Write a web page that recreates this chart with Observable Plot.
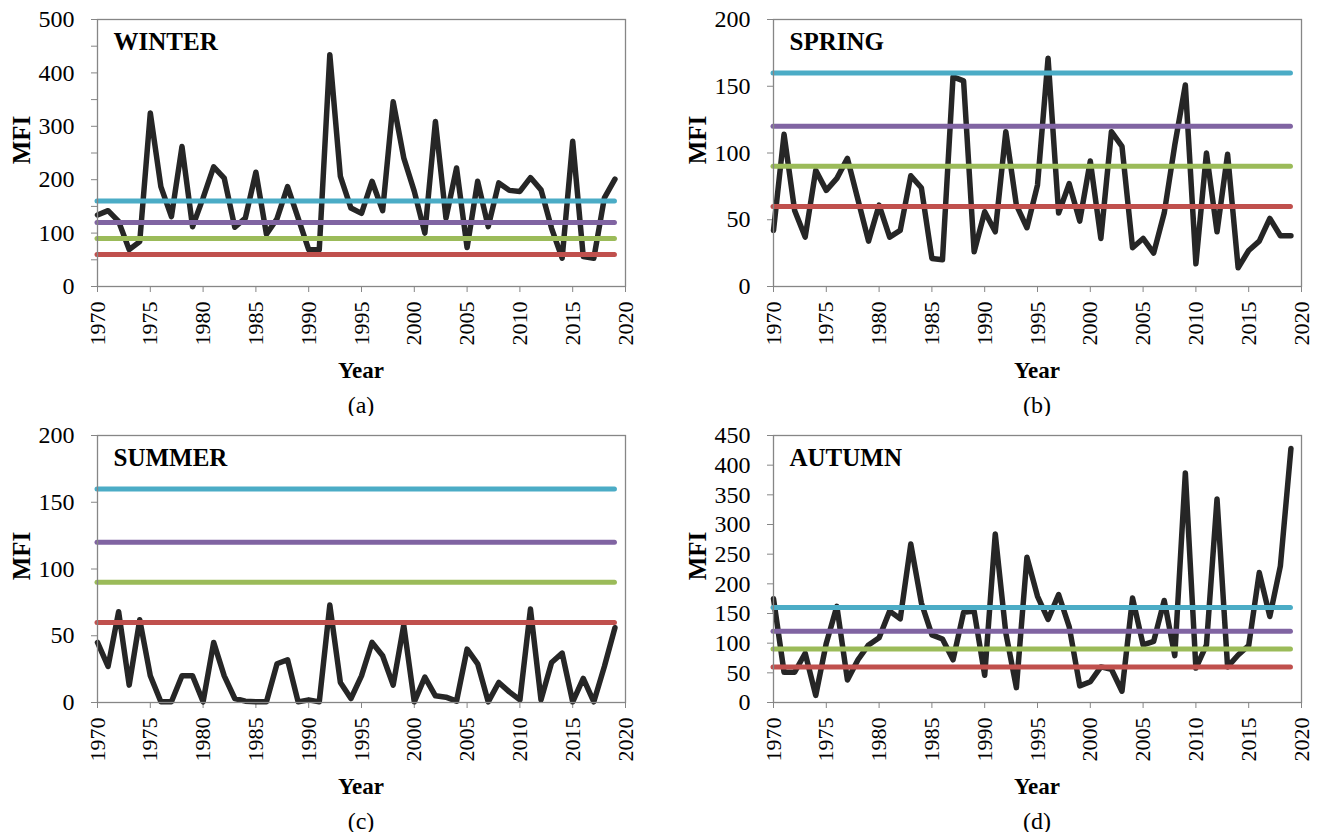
<!DOCTYPE html>
<html>
<head>
<meta charset="utf-8">
<script src="https://cdn.jsdelivr.net/npm/d3@7"></script>
<script src="https://cdn.jsdelivr.net/npm/@observablehq/plot@0.6"></script>
<style>
  html, body { margin: 0; padding: 0; background: #fff; }
  body { width: 1322px; height: 832px; overflow: hidden; position: relative;
         font-family: "Liberation Serif", "Times New Roman", serif; color: #000; }
  .panel { position: absolute; }
  .panel svg, .panel svg text { font-family: "Liberation Serif", "Times New Roman", serif !important; }
  .lbl { position: absolute; transform: translate(-50%, -50%); white-space: nowrap; line-height: 1; }
  .rot { transform: translate(-50%, -50%) rotate(-90deg); }
</style>
</head>
<body>
<script>
// ---- data ----
const years = [1970,1971,1972,1973,1974,1975,1976,1977,1978,1979,
               1980,1981,1982,1983,1984,1985,1986,1987,1988,1989,
               1990,1991,1992,1993,1994,1995,1996,1997,1998,1999,
               2000,2001,2002,2003,2004,2005,2006,2007,2008,2009,
               2010,2011,2012,2013,2014,2015,2016,2017,2018,2019];

const winter = [134,142,122,69,84,325,187,131,262,112,
                166,224,203,111,128,214,98,127,187,128,
                69,69,434,206,147,137,197,142,346,241,
                178,100,309,128,222,73,197,112,194,180,
                178,204,181,109,53,272,56,53,166,201];

const spring = [42,114,57,37,87,72,81,96,65,34,
                61,37,42,83,74,21,20,157,154,26,
                56,41,116,61,44,76,171,55,77,49,
                94,36,116,105,29,36,25,55,106,151,
                17,100,41,99,14,27,34,51,38,38];

const summer = [45,27,68,13,62,20,0.5,0.5,20,20,
                0.5,45,20,3,1,0.5,0.5,29,32,0.5,
                2,0.5,73,15,3,20,45,35,13,58,
                0.5,19,5,4,1,40,29,0.5,15,8,
                2,70,2,30,37,0.5,18,0.5,27,56];

const autumn = [175,51,51,83,12,100,162,38,72,97,
                109,154,141,267,168,114,107,72,152,154,
                46,284,117,25,245,179,140,182,128,28,
                35,60,56,19,176,97,103,172,79,387,
                58,97,343,60,80,96,219,145,230,428];

const seasonNames = ["WINTER", "SPRING", "SUMMER", "AUTUMN"];
const panelLetters = ["(a)", "(b)", "(c)", "(d)"];
const thresholds = [60, 90, 120, 160];
const thresholdColors = ["#C0504D", "#9BBB59", "#8064A2", "#4BACC6"];
const xTickYears = [1970,1975,1980,1985,1990,1995,2000,2005,2010,2015,2020];
const yMaxes = [500, 200, 200, 450];
const yLabelEvery = [100, 50, 50, 50];

// ---- layout ----
const seriesList = [winter, spring, summer, autumn];
const layout = [
  {left: 0,   top: 0},
  {left: 676, top: 0},
  {left: 0,   top: 416},
  {left: 676, top: 416}
];
const W = 645, H = 390, ML = 97, MR = 20, MT = 19, MB = 104;
const axisGray = "#868686";
const serif = "Liberation Serif";

seriesList.forEach((vals, i) => {
  const data = years.map((y, k) => ({year: y, value: vals[k]}));
  const yMax = yMaxes[i];
  const yTicks = d3.range(0, yMax + 1, 50);
  const every = yLabelEvery[i];
  const chart = Plot.plot({
    width: W, height: H,
    marginLeft: ML, marginRight: MR, marginTop: MT, marginBottom: MB,
    x: {domain: [1970, 2020]},
    y: {domain: [0, yMax]},
    style: {fontFamily: serif, color: "#000", background: "#fff", overflow: "visible"},
    marks: [
      Plot.axisX({ticks: xTickYears, tickFormat: d => String(d), tickRotate: -90,
                  tickSize: 6, tickPadding: 9, fontSize: 22, fontFamily: serif,
                  stroke: axisGray, fill: "#000", label: null}),
      Plot.axisY({ticks: yTicks, tickFormat: d => (d % every === 0 ? String(d) : ""),
                  tickSize: 6, tickPadding: 17, fontSize: 24, fontFamily: serif,
                  stroke: axisGray, fill: "#000", label: null}),
      Plot.lineY(data, {x: "year", y: "value", stroke: "#262626", strokeWidth: 5.5,
                        strokeLinejoin: "round", strokeLinecap: "round"}),
      ...thresholds.map((t, j) => Plot.ruleY([t], {
        x1: () => years[0], x2: () => years[years.length - 1],
        stroke: thresholdColors[j], strokeWidth: 5, strokeLinecap: "round"})),
      Plot.frame({stroke: axisGray, strokeWidth: 1.3}),
      Plot.text([seasonNames[i]], {text: d => d, frameAnchor: "top-left", textAnchor: "start",
                  lineAnchor: "top", dx: 16, dy: 13, fontSize: 25, fontWeight: "bold",
                  fontFamily: serif, fill: "#000"})
    ]
  });
  const wrap = document.createElement("div");
  wrap.className = "panel";
  wrap.style.left = layout[i].left + "px";
  wrap.style.top = layout[i].top + "px";
  wrap.appendChild(chart);
  document.body.appendChild(wrap);

  const cx = layout[i].left + ML + (W - ML - MR) / 2;
  const addLabel = (txt, x, y, css, rot) => {
    const el = document.createElement("div");
    el.className = "lbl" + (rot ? " rot" : "");
    el.textContent = txt;
    el.style.left = x + "px";
    el.style.top = y + "px";
    Object.assign(el.style, css);
    document.body.appendChild(el);
  };
  addLabel("Year", cx, layout[i].top + 370, {fontSize: "23px", fontWeight: "bold"});
  addLabel(panelLetters[i], cx, layout[i].top + 405, {fontSize: "24px"});
  addLabel("MFI", layout[i].left + 21, layout[i].top + 140, {fontSize: "25px", fontWeight: "bold"}, true);
});
</script>
</body>
</html>
